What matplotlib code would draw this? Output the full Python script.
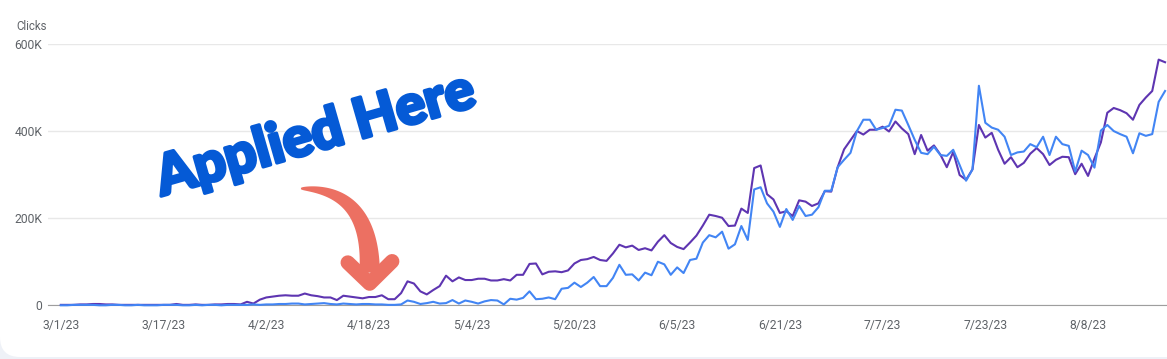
import numpy as np
import pandas as pd
import matplotlib
matplotlib.use('Agg')
from matplotlib import pyplot as plt
from matplotlib import patheffects
from matplotlib.patches import FancyBboxPatch, Polygon
from matplotlib.transforms import IdentityTransform

# daily search console data, starting 3/1/23 (thousands)
start_date = '2023-03-01'
impressions_k = [1, 1, 1, 2, 2, 3, 3, 2, 2, 1, 1, 1, 1, 1, 1, 1, 1, 1, 3, 1, 1, 2, 1, 1, 2, 2, 3, 3,
                 2, 8, 4, 13, 18, 20, 22, 23, 22, 22, 27, 23, 21, 18, 18, 12, 22, 20, 18, 16, 19, 19, 23,
                 14, 14, 28, 55, 50, 32, 25, 35, 44, 68, 55, 64, 58, 58, 61, 61, 57, 57, 60, 57, 70, 70, 95, 96, 71, 77, 78, 76, 80,
                 96, 104, 106, 111, 104, 102, 119, 139, 133, 137, 127, 131, 126, 146, 161, 143, 134, 129, 144, 160, 183, 208, 205, 201, 182,
                 183, 222, 212, 315, 321, 255, 243, 212, 216, 205, 241, 238, 228, 234, 262, 261, 317, 358, 379, 400, 392, 403, 403, 410, 399,
                 422, 406, 393, 347, 391, 355, 367, 346, 317, 352, 299, 288, 312, 414, 385, 396, 357, 325, 340, 317,
                 327, 348, 361, 347, 322, 334, 341, 340, 301, 325, 297, 337, 374, 442, 453, 448, 441, 426, 460, 477, 492, 564, 558]
clicks_k = [0, 0, 1, 1, 1, 1, 0, 0, 1, 1, 0, 0, 1, 0, 0, 0, 1, 1, 1, 0, 0, 1, 0, 1, 1, 0, 1, 1,
            1, 1, 2, 1, 2, 2, 3, 3, 4, 4, 2, 3, 4, 5, 3, 2, 4, 3, 2, 3, 3, 2, 2,
            1, 1, 2, 11, 8, 3, 5, 8, 4, 5, 12, 4, 11, 8, 4, 9, 12, 11, 2, 15, 13, 17, 32, 14, 15, 18, 14, 38, 40,
            52, 42, 52, 65, 44, 44, 63, 93, 70, 71, 57, 75, 69, 100, 94, 70, 87, 74, 104, 107, 144, 161, 156, 169, 130,
            140, 182, 150, 266, 271, 234, 215, 180, 221, 196, 228, 205, 208, 225, 263, 263, 317, 334, 350, 400, 426, 426, 403, 407, 412,
            449, 447, 414, 380, 350, 347, 364, 345, 343, 357, 322, 286, 312, 504, 419, 408, 403, 387, 345, 351,
            353, 370, 363, 387, 345, 387, 370, 366, 307, 355, 345, 316, 401, 414, 400, 393, 387, 349, 395, 389, 393, 467, 492]
y_ticks = [0, 200000, 400000, 600000]
tick_every = 16

dates = pd.date_range(start_date, periods=len(clicks_k))
days = np.arange(len(dates))
impressions = np.array(impressions_k) * 1000
clicks = np.array(clicks_k) * 1000

W, H = 1167, 359
fig = plt.figure(figsize=(W / 100, H / 100), dpi=100)
fig.patch.set_facecolor('#eef1f7')
plt.rcParams['font.family'] = ['Roboto', 'DejaVu Sans']

# white card, only bottom-left corner shows
card = FancyBboxPatch((0, 2), 1400, 600, boxstyle='round,pad=0,rounding_size=20',
                      transform=IdentityTransform(), facecolor='white', edgecolor='none', zorder=-10)
fig.add_artist(card)

ax = fig.add_axes([48 / W, (H - 305.3) / H, (W - 48) / W, (305.3 - 43.5) / H])
ax.set_facecolor('none')

ax.plot(days, impressions, color='#5e35b1', lw=1.5, clip_on=False, zorder=3)
ax.plot(days, clicks, color='#4285f4', lw=1.5, clip_on=False, zorder=4)

ax.set_xlim(-2.0, 172.3)
ax.set_ylim(0, 601000)
ax.set_yticks(y_ticks)
ax.set_yticklabels(['0' if v == 0 else f'{v // 1000}K' for v in y_ticks])
xt = days[::tick_every]
ax.set_xticks(xt)
ax.set_xticklabels([f'{d.month}/{d.day}/{d.year % 100}' for d in dates[::tick_every]])
ax.tick_params(length=0, labelsize=8.7, labelcolor='#5f6368')
ax.tick_params(axis='y', pad=4)
ax.tick_params(axis='x', pad=10)
ax.yaxis.grid(True, color='#e8e8e8', lw=1)
for s in ['top', 'right', 'left']:
    ax.spines[s].set_visible(False)
ax.spines['bottom'].set_color('#9e9e9e')
ax.spines['bottom'].set_zorder(2)

fig.text(16 / W, (H - 27) / H, 'Clicks', fontsize=8.3, color='#5f6368', va='center', ha='left')

# annotation
blue_txt = '#055ad6'
ax.text(15.7, 251000, 'Applied Here', rotation=16, rotation_mode='anchor', ha='left', va='baseline',
        fontsize=40, fontweight='black', family='Lato', color=blue_txt, zorder=6,
        path_effects=[patheffects.withStroke(linewidth=2.5, foreground=blue_txt)])

arrow_col = '#ec7062'
p0, pc, p1 = [ax.transData.transform(p) for p in [(37.4, 268000), (48.4, 267000), (48.1, 75000)]]
t = np.linspace(0, 1, 80)[:, None]
curve = (1 - t) ** 2 * p0 + 2 * (1 - t) * t * pc + t ** 2 * p1
deriv = 2 * (1 - t) * (pc - p0) + 2 * t * (p1 - pc)
normal = np.column_stack([-deriv[:, 1], deriv[:, 0]])
normal /= np.linalg.norm(normal, axis=1)[:, None]
width = (1.5 + 19 * t ** 0.6) / 2
outline = np.vstack([curve + normal * width, (curve - normal * width)[::-1]])
fig.add_artist(Polygon(outline, closed=True, transform=IdentityTransform(),
                       facecolor=arrow_col, edgecolor='none', zorder=5))
ax.plot([44.7, 48.1, 51.6], [98000, 50000, 101000], color=arrow_col, lw=10.5,
        solid_capstyle='round', solid_joinstyle='round', clip_on=False, zorder=5)

fig.savefig('out.png', dpi=100, facecolor=fig.get_facecolor())
